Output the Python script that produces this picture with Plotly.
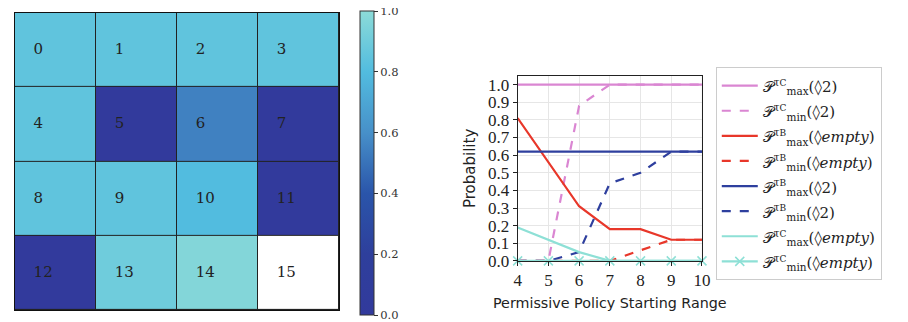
import plotly.graph_objects as go

# ---------------- data ----------------
grid_values = [
    [0.85, 0.85, 0.85, 0.85],
    [0.85, 0.0, 0.55, 0.0],
    [0.85, 0.85, 0.80, 0.0],
    [0.0, 0.90, 0.97, None],
]
grid_labels = [
    ["0", "1", "2", "3"],
    ["4", "5", "6", "7"],
    ["8", "9", "10", "11"],
    ["12", "13", "14", "15"],
]
blank_mask = [
    [None, None, None, None],
    [None, None, None, None],
    [None, None, None, None],
    [None, None, None, 1],
]
cbar_ticks = [0.0, 0.2, 0.4, 0.6, 0.8, 1.0]

x_range = [4, 5, 6, 7, 8, 9, 10]
pmax_tc_2 = [1.0, 1.0, 1.0, 1.0, 1.0, 1.0, 1.0]
pmin_tc_2 = [0.0, 0.0, 0.88, 1.0, 1.0, 1.0, 1.0]
pmax_tb_empty = [0.81, 0.56, 0.31, 0.18, 0.18, 0.12, 0.12]
pmin_tb_empty = [0.0, 0.0, 0.0, 0.0, 0.06, 0.12, 0.12]
pmax_tb_2 = [0.62, 0.62, 0.62, 0.62, 0.62, 0.62, 0.62]
pmin_tb_2 = [0.0, 0.0, 0.05, 0.44, 0.50, 0.62, 0.62]
pmax_tc_empty = [0.19, 0.12, 0.05, 0.0, 0.0, 0.0, 0.0]
pmin_tc_empty = [0.0, 0.0, 0.0, 0.0, 0.0, 0.0, 0.0]

y_ticks = [0.0, 0.1, 0.2, 0.3, 0.4, 0.5, 0.6, 0.7, 0.8, 0.9, 1.0]


def P(tau, mode, arg):
    return ("<span style='font-size:15px'>𝒫<sup>τ<span style='font-size:9px'>" + tau +
            "</span></sup><sub>" + mode + "</sub>(◊" + arg + ")</span>")


series = [
    (P("C", "max", "2"), pmax_tc_2, "#da86d2", "solid", None),
    (P("C", "min", "2"), pmin_tc_2, "#da86d2", "dash", None),
    (P("B", "max", "<i>empty</i>"), pmax_tb_empty, "#e8372a", "solid", None),
    (P("B", "min", "<i>empty</i>"), pmin_tb_empty, "#e8372a", "dash", None),
    (P("B", "max", "2"), pmax_tb_2, "#2e3f9e", "solid", None),
    (P("B", "min", "2"), pmin_tb_2, "#2e3f9e", "dash", None),
    (P("C", "max", "<i>empty</i>"), pmax_tc_empty, "#8ee0d6", "solid", None),
    (P("C", "min", "<i>empty</i>"), pmin_tc_empty, "#8ee0d6", "solid", "x-thin"),
]

W, H = 908, 322
def px(xp):
    return xp / W
def py(yp):
    return 1 - yp / H

colorscale = [
    [0.0, "#323a9c"],
    [0.2, "#2e3f9c"],
    [0.4, "#2a55aa"],
    [0.6, "#4790c9"],
    [0.8, "#52bcdf"],
    [1.0, "#8cdbd8"],
]

fig = go.Figure()

fig.add_trace(go.Heatmap(
    z=grid_values,
    colorscale=colorscale, zmin=0, zmax=1, xgap=1, ygap=1,
    hoverinfo="skip", xaxis="x", yaxis="y",
    colorbar=dict(
        x=px(353), xanchor="left", xpad=0, thickness=14,
        lenmode="pixels", len=304, y=py(160), yanchor="middle", ypad=0,
        tickvals=cbar_ticks,
        ticktext=[f"{v:.1f}" for v in cbar_ticks],
        ticklabeloverflow="allow",
        ticks="outside", ticklen=4, tickcolor="#333",
        tickfont=dict(family="DejaVu Serif", size=11.5, color="#333"),
        outlinecolor="#333", outlinewidth=1,
    ),
))
fig.add_trace(go.Heatmap(
    z=blank_mask,
    colorscale=[[0, "#ffffff"], [1, "#ffffff"]], showscale=False,
    xgap=1, ygap=1, hoverinfo="skip", xaxis="x", yaxis="y",
))

# cell labels, anchored on their left side inside each cell
lab_x, lab_y, lab_t = [], [], []
for r, row in enumerate(grid_labels):
    for c, t in enumerate(row):
        lab_x.append(c - 0.27)
        lab_y.append(r)
        lab_t.append(t)
fig.add_trace(go.Scatter(
    x=lab_x, y=lab_y, text=lab_t, mode="text", textposition="middle right",
    textfont=dict(family="DejaVu Serif", size=15, color="#222222"),
    hoverinfo="skip", showlegend=False, xaxis="x", yaxis="y",
))

for name, vals, color, dash, marker in series:
    fig.add_trace(go.Scatter(
        x=x_range, y=vals, name=name,
        mode="lines+markers" if marker else "lines",
        line=dict(color=color, width=2.2, dash=dash),
        marker=dict(symbol=marker, size=9, line=dict(color=color, width=1.5)) if marker else None,
        xaxis="x2", yaxis="y2", cliponaxis=False,
    ))

fig.update_layout(
    width=W, height=H, margin=dict(l=0, r=0, t=0, b=0),
    paper_bgcolor="white", plot_bgcolor="#222222",
    xaxis=dict(domain=[px(3), px(332)], showticklabels=False, ticks="",
               showgrid=False, zeroline=False, showline=True, linecolor="#111",
               linewidth=1, mirror=True, range=[-0.5, 3.5]),
    yaxis=dict(domain=[py(312), py(5)], showticklabels=False, ticks="",
               showgrid=False, zeroline=False, showline=True, linecolor="#111",
               linewidth=1, mirror=True, range=[3.5, -0.5]),
    xaxis2=dict(domain=[px(513), px(700)], anchor="y2", range=[4, 10],
                tickvals=x_range, ticks="outside", ticklen=4, tickcolor="#222",
                tickfont=dict(family="Liberation Serif", size=17, color="#222"),
                showgrid=True, gridcolor="#e6e6e6", zeroline=False,
                showline=True, linecolor="#222", mirror=True,
                title=dict(text="Permissive Policy Starting Range",
                           font=dict(family="DejaVu Sans", size=14.3, color="#222"), standoff=8)),
    yaxis2=dict(domain=[py(261), py(70)], anchor="x2", range=[0, 1.05],
                tickvals=y_ticks, ticktext=[f"{v:.1f}" for v in y_ticks],
                ticks="outside", ticklen=4, tickcolor="#222",
                tickfont=dict(family="Liberation Serif", size=17, color="#222"),
                showgrid=True, gridcolor="#e6e6e6", zeroline=False,
                showline=True, linecolor="#222", mirror=True,
                title=dict(text="Probability",
                           font=dict(family="DejaVu Sans", size=15, color="#222"), standoff=8)),
    legend=dict(x=px(714), y=py(61), xanchor="left", yanchor="top",
                bgcolor="white", bordercolor="#cccccc", borderwidth=1,
                font=dict(family="DejaVu Serif", size=17, color="#222"),
                tracegroupgap=0, itemwidth=36),
    showlegend=True,
)
# plot area of line chart must be white
fig.add_shape(type="rect", xref="x2 domain", yref="y2 domain", x0=0, x1=1, y0=0, y1=1,
              fillcolor="white", line=dict(width=0), layer="below")

fig.write_html("out.html")
